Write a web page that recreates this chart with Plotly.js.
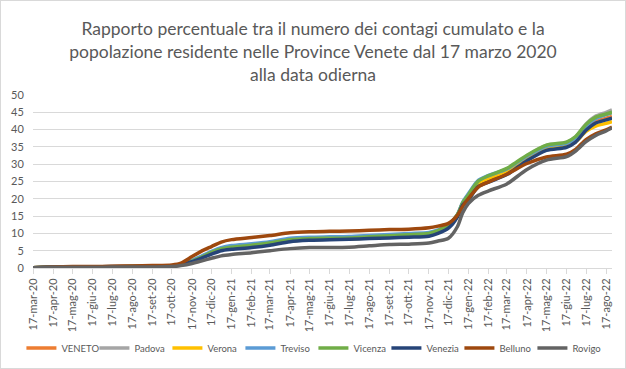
<!DOCTYPE html>
<html>
<head>
<meta charset="utf-8">
<script src="https://cdn.plot.ly/plotly-3.0.1.min.js"></script>
<style>
  html, body { margin: 0; padding: 0; background: #fff; }
  #wrap { position: relative; width: 626px; height: 369px; }
  #chart { position: absolute; left: 0; top: 0; width: 626px; height: 369px; }
  #frame { position: absolute; left: 0; top: 0; width: 626px; height: 369px; box-sizing: border-box; border: 1px solid #d9d9d9; pointer-events: none; }
</style>
</head>
<body>
<div id="wrap"><div id="chart"></div><div id="frame"></div></div>
<script>
const dates = ["2020-03-17","2020-04-17","2020-05-17","2020-06-17","2020-07-17","2020-08-17","2020-09-17","2020-10-17","2020-10-31","2020-11-17","2020-12-01","2020-12-17","2021-01-01","2021-01-17","2021-02-17","2021-03-17","2021-04-17","2021-05-17","2021-06-17","2021-07-17","2021-08-17","2021-09-17","2021-10-17","2021-11-17","2021-12-01","2021-12-17","2021-12-31","2022-01-08","2022-01-17","2022-02-01","2022-02-17","2022-03-17","2022-04-17","2022-05-17","2022-06-17","2022-07-01","2022-07-17","2022-08-01","2022-08-17","2022-08-26"];

const veneto  = [0.1,0.3,0.3,0.3,0.4,0.4,0.5,0.6,1.0,2.0,3.1,4.4,5.4,5.9,6.4,7.0,7.9,8.3,8.4,8.5,8.8,9.1,9.3,9.7,10.5,12.0,15.2,18.6,20.6,24.4,25.8,27.8,31.5,34.3,35.2,36.7,40.2,42.3,43.3,43.8];
const padova  = [0.1,0.3,0.3,0.3,0.4,0.4,0.5,0.6,1.0,2.1,3.2,4.6,5.7,6.2,6.8,7.4,8.3,8.6,8.7,8.8,9.1,9.4,9.7,10.0,10.8,12.3,15.4,18.8,21.0,25.0,26.5,28.6,32.4,35.4,36.3,37.9,41.6,43.9,45.0,45.7];
const verona  = [0.1,0.3,0.3,0.3,0.3,0.4,0.4,0.5,0.9,1.9,3.0,4.3,5.3,5.7,6.2,6.9,7.8,8.2,8.3,8.4,8.7,9.0,9.2,9.6,10.4,11.9,15.0,18.4,20.3,24.2,25.6,27.6,31.4,34.5,35.2,36.5,39.5,41.0,41.8,42.3];
const treviso = [0.1,0.3,0.3,0.3,0.4,0.4,0.5,0.6,1.0,2.2,3.4,4.8,5.9,6.5,7.0,7.6,8.6,8.9,9.0,9.1,9.4,9.7,10.0,10.3,11.0,12.3,15.5,19.0,21.5,25.3,26.8,28.6,32.3,35.2,36.0,37.5,41.0,43.2,44.3,44.9];
const vicenza = [0.1,0.3,0.3,0.3,0.3,0.4,0.4,0.6,1.0,2.0,3.1,4.5,5.5,6.0,6.6,7.2,8.2,8.5,8.6,8.7,9.0,9.3,9.6,10.0,10.8,12.4,15.5,18.8,21.2,25.1,26.7,28.8,32.6,35.5,36.4,38.0,41.5,43.6,44.5,45.0];
const venezia = [0.1,0.3,0.3,0.3,0.3,0.4,0.4,0.5,0.9,1.8,2.8,4.0,5.0,5.4,5.9,6.6,7.6,8.0,8.2,8.3,8.5,8.7,8.9,9.2,10.0,11.5,14.8,18.2,19.8,23.5,24.8,27.0,31.0,34.0,34.9,36.4,39.8,41.9,42.8,43.3];
const belluno = [0.1,0.3,0.4,0.4,0.5,0.6,0.7,0.9,1.4,3.3,4.8,6.2,7.5,8.2,8.8,9.4,10.2,10.5,10.6,10.7,10.9,11.1,11.2,11.6,12.1,12.9,15.3,17.8,20.1,23.4,24.9,27.1,30.2,32.1,32.9,34.3,37.1,38.8,39.9,40.7];
const rovigo  = [0.1,0.2,0.2,0.2,0.3,0.3,0.3,0.4,0.7,1.3,2.0,2.8,3.5,3.9,4.4,5.0,5.6,5.9,5.9,6.0,6.4,6.8,6.9,7.2,7.8,8.6,12.0,16.0,18.7,21.0,22.3,24.3,28.5,31.2,32.2,33.8,36.5,38.3,39.6,40.5];

const seriesNames = ["VENETO","Padova","Verona","Treviso","Vicenza","Venezia","Belluno","Rovigo"];
const seriesData = [veneto, padova, verona, treviso, vicenza, venezia, belluno, rovigo];
const seriesColors = ["#ED7D31","#A5A5A5","#FFC000","#5B9BD5","#70AD47","#264478","#9E480E","#636363"];

const tickDates = ["2020-03-17","2020-04-17","2020-05-17","2020-06-17","2020-07-17","2020-08-17","2020-09-17","2020-10-17","2020-11-17","2020-12-17","2021-01-17","2021-02-17","2021-03-17","2021-04-17","2021-05-17","2021-06-17","2021-07-17","2021-08-17","2021-09-17","2021-10-17","2021-11-17","2021-12-17","2022-01-17","2022-02-17","2022-03-17","2022-04-17","2022-05-17","2022-06-17","2022-07-17","2022-08-17"];
const tickLabels = ["17-mar-20","17-apr-20","17-mag-20","17-giu-20","17-lug-20","17-ago-20","17-set-20","17-ott-20","17-nov-20","17-dic-20","17-gen-21","17-feb-21","17-mar-21","17-apr-21","17-mag-21","17-giu-21","17-lug-21","17-ago-21","17-set-21","17-ott-21","17-nov-21","17-dic-21","17-gen-22","17-feb-22","17-mar-22","17-apr-22","17-mag-22","17-giu-22","17-lug-22","17-ago-22"];

const traces = seriesNames.map((n, i) => ({
  type: "scatter", mode: "lines", name: n,
  x: dates, y: seriesData[i],
  line: { color: seriesColors[i], width: 3.5, shape: "spline", smoothing: 0.8 }
}));

const FONT = "Lato, 'Open Sans', sans-serif";
const layout = {
  width: 626, height: 369,
  margin: { l: 33, r: 14, t: 95, b: 101, autoexpand: false },
  paper_bgcolor: "#fff", plot_bgcolor: "#fff",
  font: { family: FONT, color: "#595959", size: 11 },
  title: {
    text: "Rapporto percentuale tra il numero dei contagi cumulato e la<br>popolazione residente nelle Province Venete dal 17 marzo 2020<br>alla data odierna",
    font: { family: FONT, size: 17.5, color: "#595959" },
    x: 0.5, xanchor: "center", xref: "container",
    y: 0.905, yanchor: "top", yref: "container"
  },
  xaxis: {
    type: "date", range: ["2020-03-17", "2022-08-26"],
    tickmode: "array", tickvals: tickDates, ticktext: tickLabels,
    tickangle: -90, tickfont: { family: FONT, size: 11, color: "#595959" },
    showgrid: false, zeroline: false, automargin: false,
    showline: true, linecolor: "#d9d9d9", linewidth: 1,
    ticks: "outside", ticklen: 5, tickcolor: "#d9d9d9"
  },
  yaxis: {
    range: [0, 50], tickvals: [0,5,10,15,20,25,30,35,40,45,50],
    showgrid: true, gridcolor: "#d9d9d9", gridwidth: 1,
    zeroline: false, showline: false, automargin: false,
    tickfont: { family: FONT, size: 11, color: "#595959" },
    ticks: "outside", ticklen: 6, tickcolor: "rgba(0,0,0,0)"
  },
  showlegend: true,
  legend: {
    orientation: "h", x: -0.02, xanchor: "left",
    y: -0.462, yanchor: "middle",
    font: { family: FONT, size: 9.5, color: "#595959" },
    itemwidth: 30, entrywidth: 28, entrywidthmode: "pixels",
    tracegroupgap: 0, bgcolor: "rgba(0,0,0,0)"
  }
};

Plotly.newPlot("chart", traces, layout, { displayModeBar: false, staticPlot: true });
</script>
</body>
</html>
